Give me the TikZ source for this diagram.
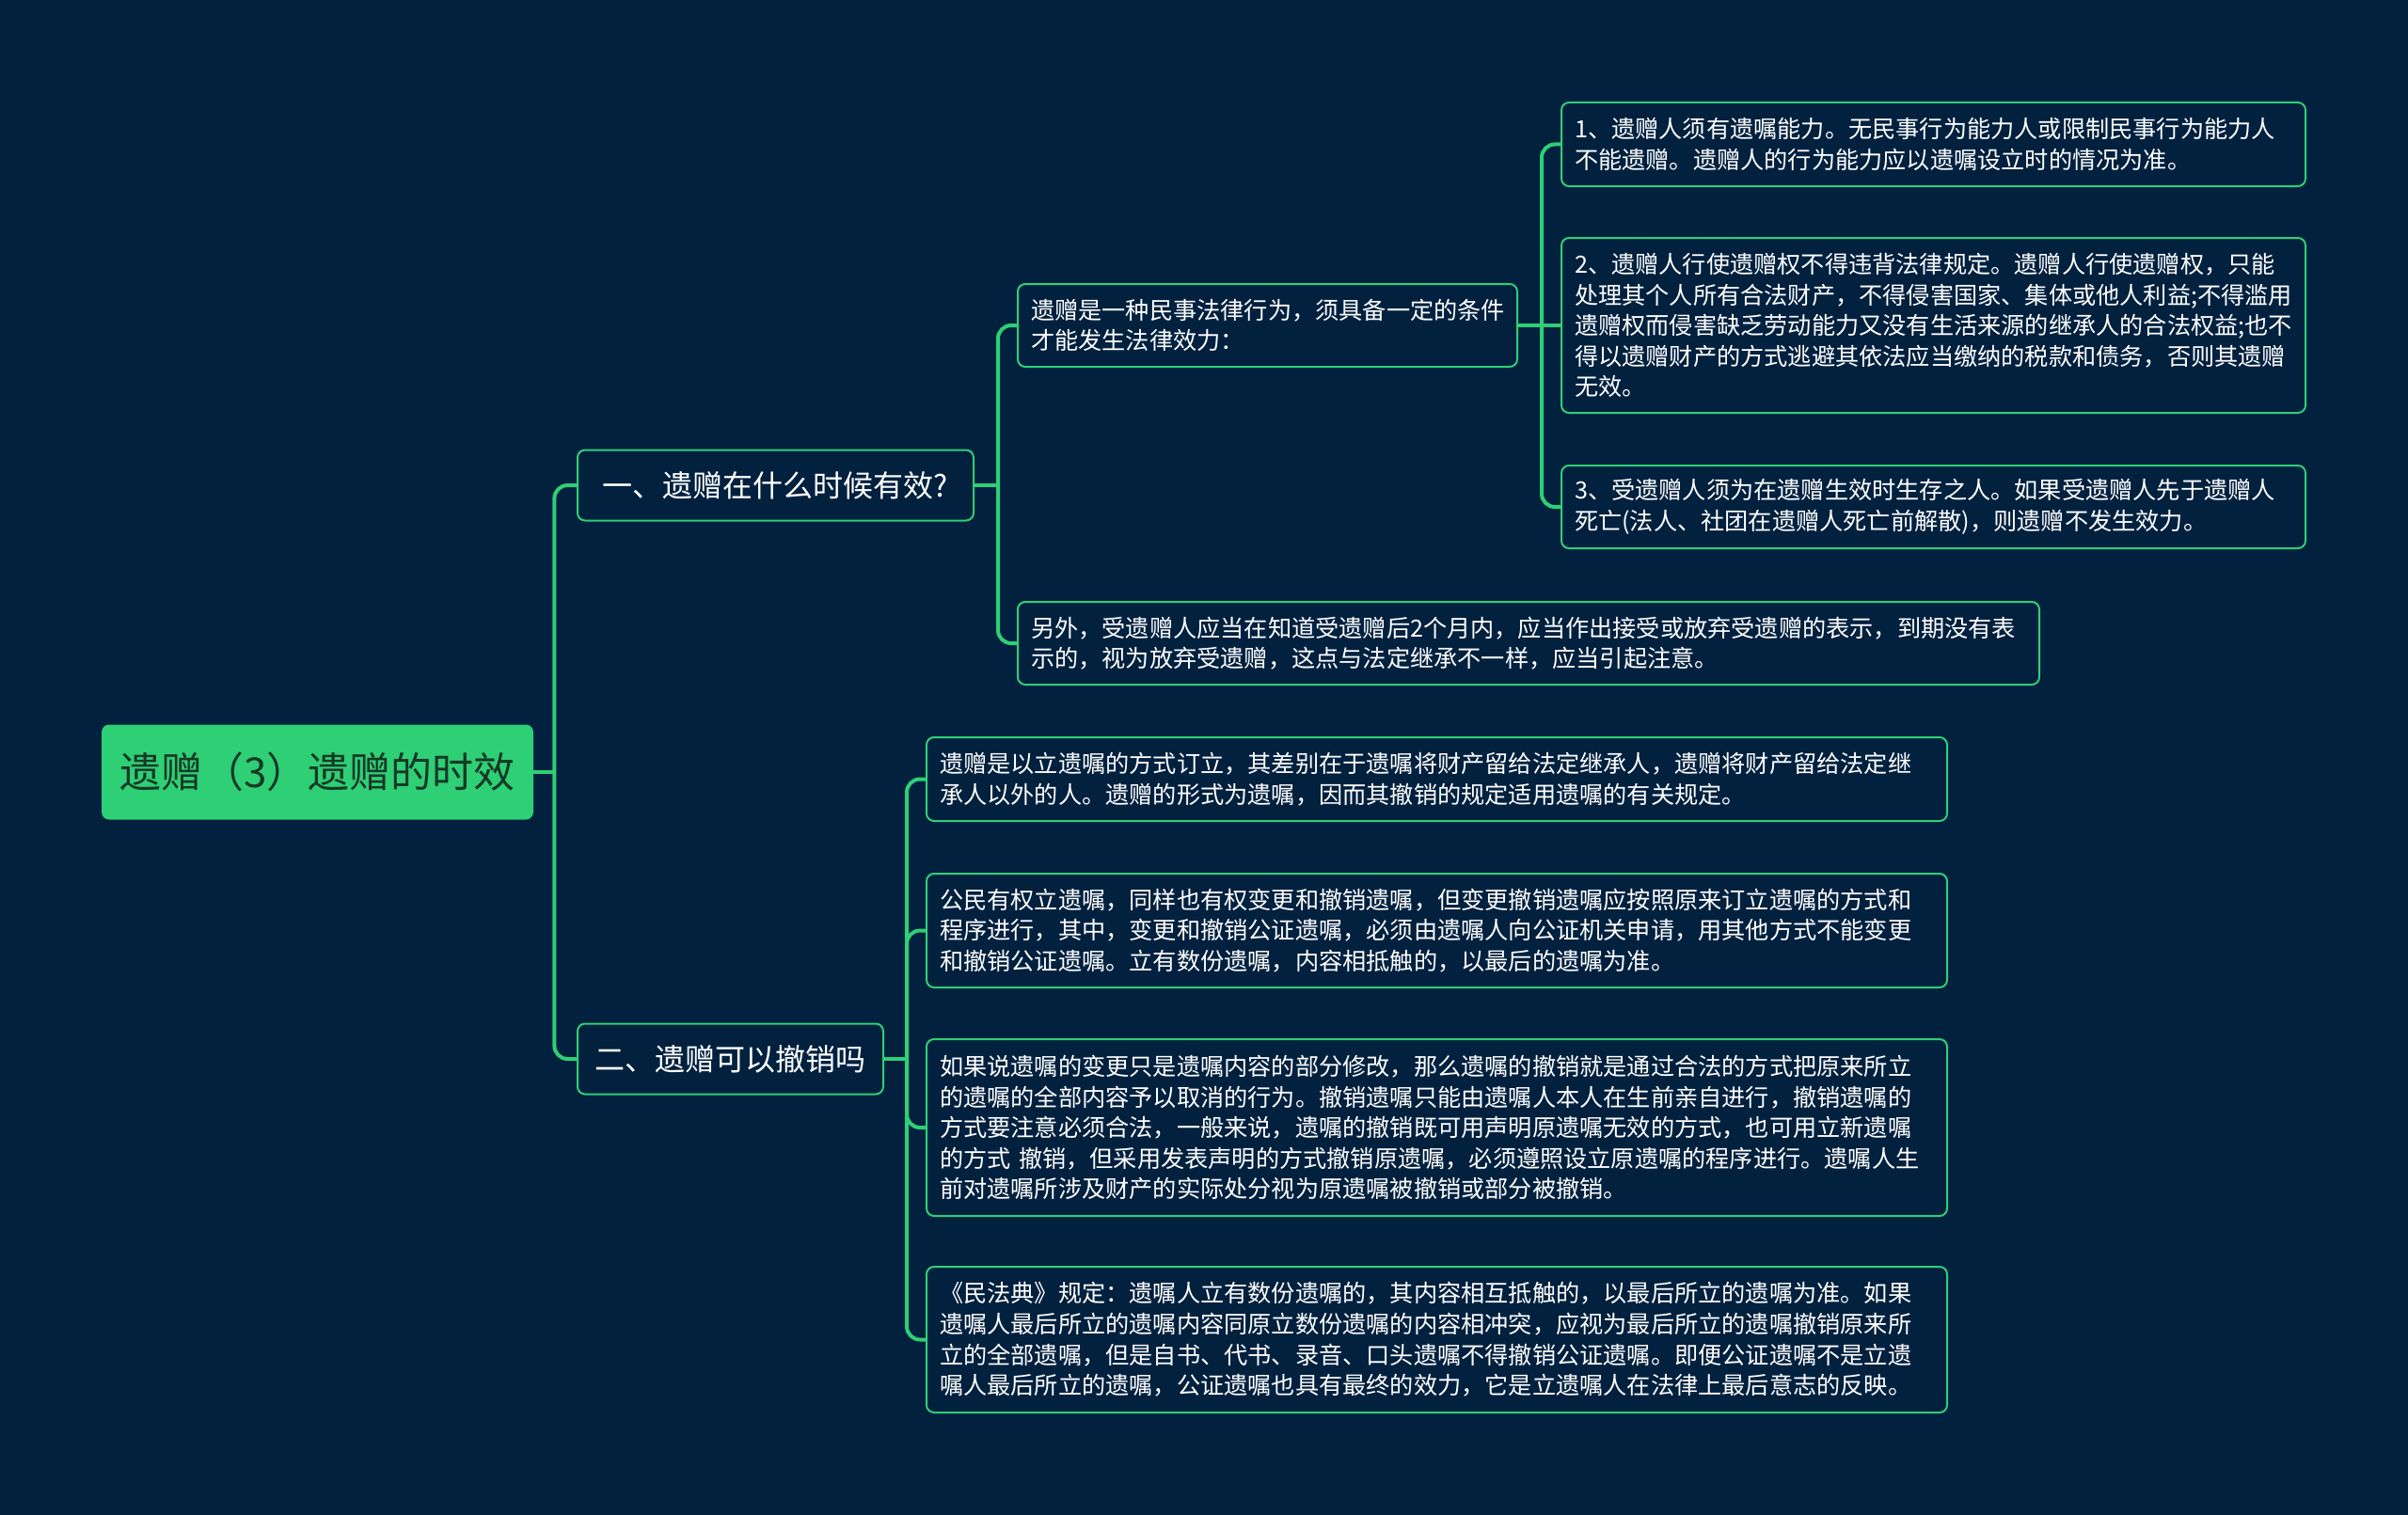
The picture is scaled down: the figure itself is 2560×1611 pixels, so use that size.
\documentclass[tikz,border=0pt]{standalone}
\usepackage{fontspec}
\setmainfont{Noto Sans CJK SC}
\usetikzlibrary{calc}
\definecolor{bg}{HTML}{02213F}
\definecolor{gr}{HTML}{2ECF75}
\definecolor{roottext}{HTML}{173826}
\tikzset{
  box/.style={draw=gr, line width=1pt, fill=bg, rounded corners=4pt, text=white, inner ysep=0pt},
  txt/.style={box, align=left, font=\fontsize{12.6pt}{16.3pt}\selectfont, inner xsep=7pt},
  big/.style={box, align=center, font=\fontsize{16pt}{20pt}\selectfont, inner xsep=0pt},
  conn/.style={draw=gr, line width=2pt, rounded corners=7pt},
  stub/.style={draw=gr, line width=2pt},
}
\begin{document}
\begin{tikzpicture}[x=0.5pt,y=-0.5pt]
\fill[bg] (0,0) rectangle (2560,1611);
\useasboundingbox (0,0) rectangle (2560,1611);

\node[fill=gr, rounded corners=4pt, minimum width=229.5pt, minimum height=50.5pt, inner sep=0pt,
      text=roottext, font=\fontsize{22pt}{26pt}\selectfont] (root) at (337.5,821) {遗赠（3）遗赠的时效};

\node[big, minimum width=210.5pt, minimum height=37.5pt] (a) at (824.5,516) {一、遗赠在什么时候有效?};
\node[big, minimum width=162.5pt, minimum height=37.5pt] (b) at (776.5,1126) {二、遗赠可以撤销吗};

\node[txt, text width=251.5pt, minimum height=44pt] (a1) at (1347.5,346)
 {遗赠是一种民事法律行为，须具备一定的条件\\才能发生法律效力：};
\node[txt, text width=529pt, minimum height=44pt] (a2) at (1625,684)
 {另外，受遗赠人应当在知道受遗赠后2个月内，应当作出接受或放弃受遗赠的表示，到期没有表\\示的，视为放弃受遗赠，这点与法定继承不一样，应当引起注意。};

\node[txt, text width=381.5pt, minimum height=44.5pt] (c1) at (2055.5,153.5)
 {1、遗赠人须有遗嘱能力。无民事行为能力人或限制民事行为能力人\\不能遗赠。遗赠人的行为能力应以遗嘱设立时的情况为准。};
\node[txt, text width=381.5pt, minimum height=93pt] (c2) at (2055.5,346)
 {2、遗赠人行使遗赠权不得违背法律规定。遗赠人行使遗赠权，只能\\处理其个人所有合法财产，不得侵害国家、集体或他人利益;不得滥用\\遗赠权而侵害缺乏劳动能力又没有生活来源的继承人的合法权益;也不\\得以遗赠财产的方式逃避其依法应当缴纳的税款和债务，否则其遗赠\\无效。};
\node[txt, text width=381.5pt, minimum height=44pt] (c3) at (2055.5,539)
 {3、受遗赠人须为在遗赠生效时生存之人。如果受遗赠人先于遗赠人\\死亡(法人、社团在遗赠人死亡前解散)，则遗赠不发生效力。};

\node[txt, text width=528.5pt, minimum height=44.5pt] (b1) at (1527.5,828.5)
 {遗赠是以立遗嘱的方式订立，其差别在于遗嘱将财产留给法定继承人，遗赠将财产留给法定继\\承人以外的人。遗赠的形式为遗嘱，因而其撤销的规定适用遗嘱的有关规定。};
\node[txt, text width=528.5pt, minimum height=60.5pt] (b2) at (1527.5,989.5)
 {公民有权立遗嘱，同样也有权变更和撤销遗嘱，但变更撤销遗嘱应按照原来订立遗嘱的方式和\\程序进行，其中，变更和撤销公证遗嘱，必须由遗嘱人向公证机关申请，用其他方式不能变更\\和撤销公证遗嘱。立有数份遗嘱，内容相抵触的，以最后的遗嘱为准。};
\node[txt, text width=528.5pt, minimum height=94pt] (b3) at (1527.5,1199)
 {如果说遗嘱的变更只是遗嘱内容的部分修改，那么遗嘱的撤销就是通过合法的方式把原来所立\\的遗嘱的全部内容予以取消的行为。撤销遗嘱只能由遗嘱人本人在生前亲自进行，撤销遗嘱的\\方式要注意必须合法，一般来说，遗嘱的撤销既可用声明原遗嘱无效的方式，也可用立新遗嘱\\的方式 撤销，但采用发表声明的方式撤销原遗嘱，必须遵照设立原遗嘱的程序进行。遗嘱人生\\前对遗嘱所涉及财产的实际处分视为原遗嘱被撤销或部分被撤销。};
\node[txt, text width=528.5pt, minimum height=77.5pt] (b4) at (1527.5,1424.5)
 {《民法典》规定：遗嘱人立有数份遗嘱的，其内容相互抵触的，以最后所立的遗嘱为准。如果\\遗嘱人最后所立的遗嘱内容同原立数份遗嘱的内容相冲突，应视为最后所立的遗嘱撤销原来所\\立的全部遗嘱，但是自书、代书、录音、口头遗嘱不得撤销公证遗嘱。即便公证遗嘱不是立遗\\嘱人最后所立的遗嘱，公证遗嘱也具有最终的效力，它是立遗嘱人在法律上最后意志的反映。};

\coordinate (jr) at ($(root.east)+(11pt,0)$);
\coordinate (ja) at ($(a.east)+(12.5pt,0)$);
\coordinate (ja1) at ($(a1.east)+(12.5pt,0)$);
\coordinate (jb) at ($(b.east)+(12pt,0)$);

\draw[stub] (root.east) -- (jr);
\draw[conn] (jr) |- (a.west);
\draw[conn] (jr) |- (b.west);
\draw[stub] (a.east) -- (ja);
\draw[conn] (ja) |- (a1.west);
\draw[conn] (ja) |- (a2.west);
\draw[stub] (a1.east) -- (c2.west);
\draw[conn] (ja1) |- (c1.west);
\draw[conn] (ja1) |- (c3.west);
\draw[stub] (b.east) -- (jb);
\draw[conn] (jb) |- (b1.west);
\draw[conn] (jb) |- (b2.west);
\draw[conn] (jb) |- (b3.west);
\draw[conn] (jb) |- (b4.west);
\end{tikzpicture}
\end{document}
